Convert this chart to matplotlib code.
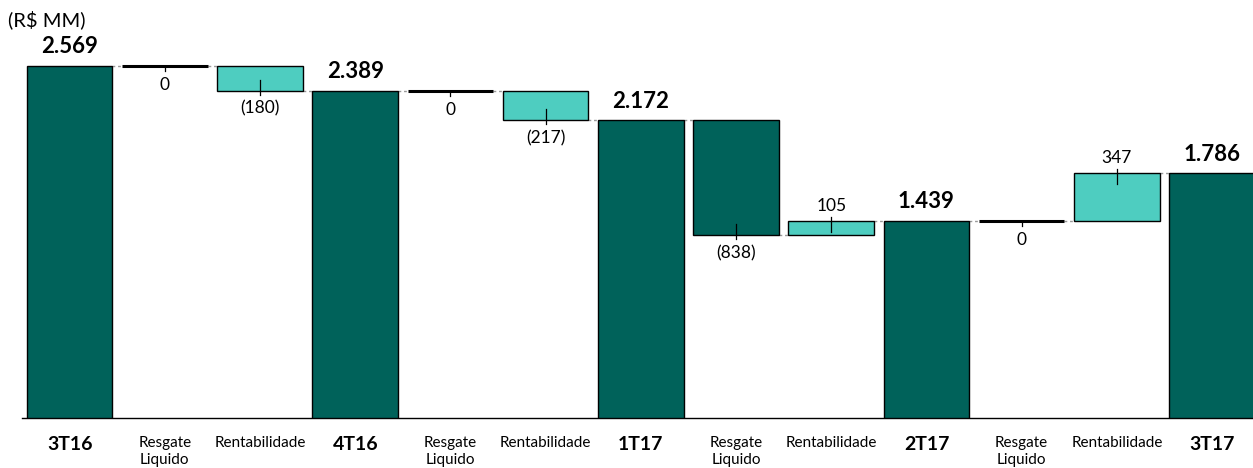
import matplotlib
matplotlib.use("Agg")
import matplotlib.pyplot as plt
from matplotlib.transforms import offset_copy
from matplotlib.lines import Line2D

plt.rcParams['font.family'] = ['Lato', 'DejaVu Sans']

categories = ['3T16', 'Resgate\nLiquido', 'Rentabilidade', '4T16',
              'Resgate\nLiquido', 'Rentabilidade', '1T17',
              'Resgate\nLiquido', 'Rentabilidade', '2T17',
              'Resgate\nLiquido', 'Rentabilidade', '3T17']
values = [2569, 0, -180, 2389, 0, -217, 2172, -838, 105, 1439, 0, 347, 1786]
is_total = [True, False, False, True, False, False, True, False, False, True, False, False, True]

DARK = '#00625A'
LIGHT = '#4ECDC0'
bar_colors = [DARK, None, LIGHT, DARK, None, LIGHT, DARK, DARK, LIGHT, DARK, None, LIGHT, DARK]

W, H = 1253, 468
fig = plt.figure(figsize=(W / 100, H / 100), dpi=100)
ax = fig.add_axes([22 / W, 50 / H, (W - 22) / W, 370 / H])
ax.set_xlim(-0.5, 12.43)
ax.set_ylim(0, 2700)


def off(dy):
    return offset_copy(ax.transData, fig=fig, x=0, y=dy, units='dots')


def tick(x, y, d0, d1):
    p = ax.transData.transform((x, y))
    ax.add_line(Line2D([p[0], p[0]], [p[1] + d0, p[1] + d1], transform=None,
                       color='black', lw=0.9, zorder=4))


width = 0.9
running = 0
levels = []
for i, (v, tot) in enumerate(zip(values, is_total)):
    if tot:
        bottom, top = 0, v
        running = v
    else:
        start = running
        running = running + v
        bottom, top = min(start, running), max(start, running)
    levels.append(running)
    if top == bottom:
        ax.plot([i - width / 2, i + width / 2], [top, top], color='black', lw=2.2,
                solid_capstyle='butt', zorder=3)
    else:
        ax.bar(i, top - bottom, bottom=bottom, width=width, color=bar_colors[i],
               edgecolor='black', linewidth=1.0, zorder=3)

    if tot:
        ax.text(i, top, f"{v:,}".replace(',', '.'), transform=off(19), ha='center', va='center',
                fontsize=16, fontweight='bold', color='black')
    else:
        lbl = f"({abs(v)})" if v < 0 else f"{v}"
        if v < 0:
            ax.text(i, bottom, lbl, transform=off(-18), ha='center', va='center', fontsize=12.5)
            tick(i, bottom, -4, 11)
        elif v > 0:
            ax.text(i, top, lbl, transform=off(15), ha='center', va='center', fontsize=12.5)
            tick(i, top, 4, -11)
        else:
            ax.text(i, top, lbl, transform=off(-19), ha='center', va='center', fontsize=12.5)
            tick(i, top, 0, -5)

# connectors
for i in range(len(values) - 1):
    ax.plot([i + width / 2, i + 1 - width / 2], [levels[i], levels[i]],
            color='#999999', lw=1.0, ls=(0, (2, 2)), zorder=2)

ax.set_xticks(range(len(categories)))
ax.set_xticklabels(categories)
for lab, tot in zip(ax.get_xticklabels(), is_total):
    lab.set_verticalalignment('top')
    lab.set_linespacing(1.28)
    if tot:
        lab.set_fontsize(14)
        lab.set_fontweight('bold')
    else:
        lab.set_fontsize(11)
ax.tick_params(axis='x', length=0, pad=13)
ax.set_yticks([])
for s in ['left', 'top', 'right']:
    ax.spines[s].set_visible(False)
ax.spines['bottom'].set_color('black')
ax.spines['bottom'].set_linewidth(1.0)

fig.text(8 / W, 1 - 20 / H, '(R$ MM)', ha='left', va='center', fontsize=14.5)

fig.savefig('out.png', dpi=100)
